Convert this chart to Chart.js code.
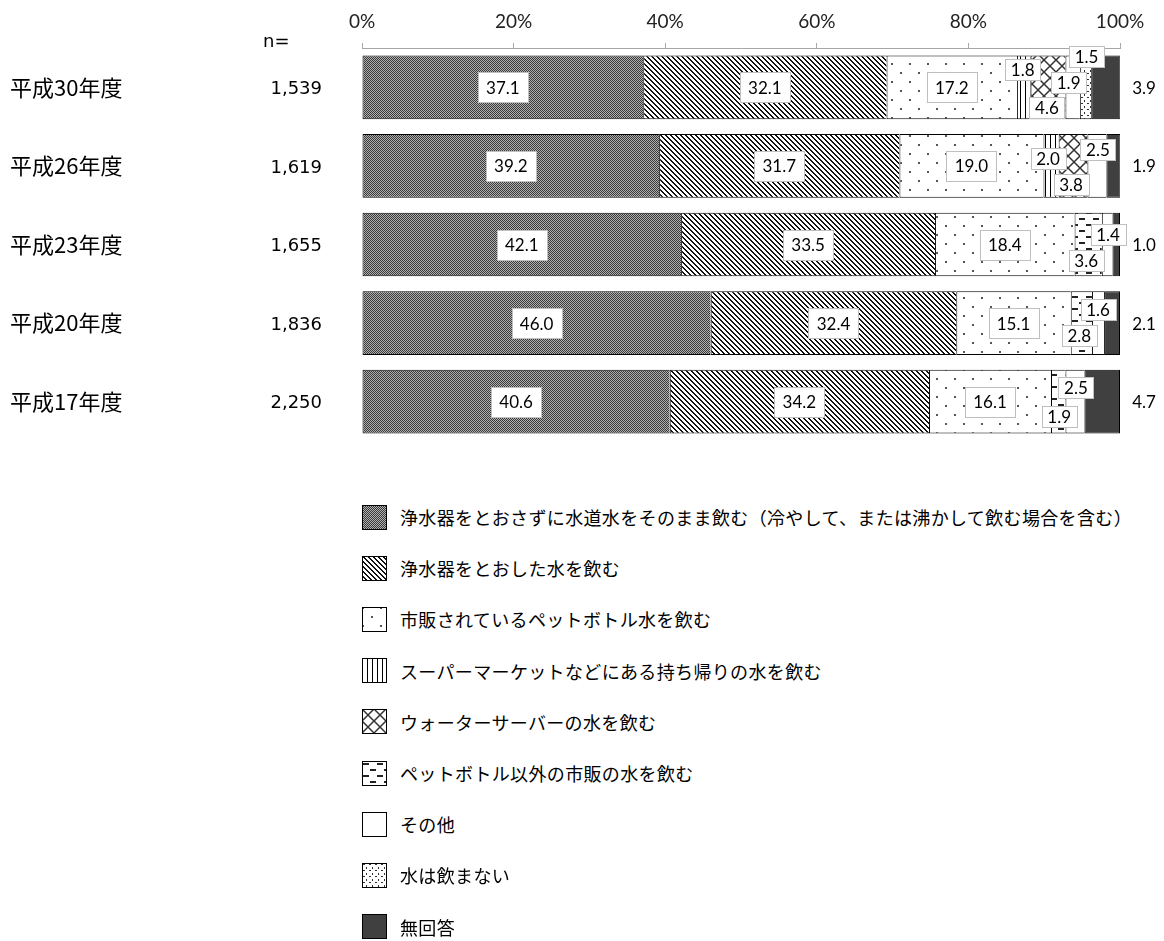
<!DOCTYPE html>
<html lang="ja">
<head>
<meta charset="utf-8">
<script src="https://cdn.jsdelivr.net/npm/chart.js@4/dist/chart.umd.min.js"></script>
<style>
  html, body { margin: 0; padding: 0; background: #fff; }
  #wrap { position: relative; width: 1164px; height: 941px; }
  #chartBox { position: absolute; left: 0; top: 0; width: 1164px; height: 470px; }
  #legend { position: absolute; left: 362px; top: 0; }
  .item { position: absolute; left: 0; display: flex; align-items: center; height: 26px;
          white-space: nowrap; font: 18px "Noto Sans CJK JP"; letter-spacing: 0.35px; color: #000; }
  .item canvas { display: block; margin-right: 13px; }
</style>
</head>
<body>
<div id="wrap">
  <div id="chartBox"><canvas id="c"></canvas></div>
  <div id="legend"></div>
</div>
<script>
// ---- survey data (%), one value per survey year ----
const years = ['平成30年度', '平成26年度', '平成23年度', '平成20年度', '平成17年度'];
const sampleSizes = ['1,539', '1,619', '1,655', '1,836', '2,250'];
const percentTicks = ['0%', '20%', '40%', '60%', '80%', '100%'];

const tapDirect       = [37.1, 39.2, 42.1, 46.0, 40.6];
const tapFiltered     = [32.1, 31.7, 33.5, 32.4, 34.2];
const bottledWater    = [17.2, 19.0, 18.4, 15.1, 16.1];
const storeTakeHome   = [1.8, 2.0, null, null, null];
const waterServer     = [4.6, 3.8, null, null, null];
const otherCommercial = [null, null, 3.6, 2.8, 1.9];
const otherAnswer     = [1.9, 2.5, 1.4, 1.6, 2.5];
const noWater         = [1.5, null, null, null, null];
const noAnswer        = [3.9, 1.9, 1.0, 2.1, 4.7];

const seriesNames = [
  '浄水器をとおさずに水道水をそのまま飲む（冷やして、または沸かして飲む場合を含む）',
  '浄水器をとおした水を飲む',
  '市販されているペットボトル水を飲む',
  'スーパーマーケットなどにある持ち帰りの水を飲む',
  'ウォーターサーバーの水を飲む',
  'ペットボトル以外の市販の水を飲む',
  'その他',
  '水は飲まない',
  '無回答'
];
const seriesValues = [tapDirect, tapFiltered, bottledWater, storeTakeHome, waterServer,
                      otherCommercial, otherAnswer, noWater, noAnswer];
const NO_ANSWER = 8;

// ---- fill patterns ----
function tile(w, h, draw) {
  const c = document.createElement('canvas');
  c.width = w; c.height = h;
  const g = c.getContext('2d');
  g.fillStyle = '#fff'; g.fillRect(0, 0, w, h);
  draw(g, w, h);
  return c;
}
const tiles = [
  // fine checker
  tile(2, 2, (g) => { g.fillStyle = '#b0b0b0'; g.fillRect(0, 0, 2, 2);
                      g.fillStyle = '#3a3a3a'; g.fillRect(0, 0, 1, 1); g.fillRect(1, 1, 1, 1); }),
  // diagonal hatch
  tile(5, 5, (g) => { g.fillStyle = '#111';
    for (let y = 0; y < 5; y++) for (let x = 0; x < 5; x++) if (((x - y + 10) % 5) < 2) g.fillRect(x, y, 1, 1); }),
  // sparse dots
  tile(18, 18, (g) => { g.fillStyle = '#555'; g.fillRect(0, 0, 2, 2); g.fillRect(9, 9, 2, 2); }),
  // vertical lines
  tile(5, 1, (g) => { g.fillStyle = '#000'; g.fillRect(0, 0, 1, 1); }),
  // large cross hatch
  tile(12, 12, (g) => { g.strokeStyle = '#333'; g.lineWidth = 1.5; g.beginPath();
    g.moveTo(0, 0); g.lineTo(12, 12); g.moveTo(12, 0); g.lineTo(0, 12); g.stroke(); }),
  // horizontal dashes
  tile(14, 12, (g) => { g.fillStyle = '#222'; g.fillRect(1, 2, 6, 2); g.fillRect(8, 8, 6, 2); }),
  // plain white
  null,
  // dense speckle
  tile(6, 6, (g) => { g.fillStyle = '#333'; g.fillRect(1, 1, 2, 1); g.fillRect(4, 4, 1, 2); }),
  // solid dark
  null
];
const solidFills = { 6: '#ffffff', 8: '#404040' };
function fillFor(ctx, i) {
  return tiles[i] ? ctx.createPattern(tiles[i], 'repeat') : solidFills[i];
}

// ---- value labels ----
// label nudges for the thin segments, [dataset, category] -> [dx, dy]
const labelNudge = {
  '3,0': [-1, -18], '4,0': [-1, 20], '6,0': [-4, -5], '7,0': [1, -31],
  '3,1': [-3, -7],  '4,1': [-2, 19], '6,1': [1, -16],
  '5,2': [-2, 16],  '6,2': [1, -10],
  '5,3': [-2, 12],  '6,3': [0, -14],
  '5,4': [1, 15],   '6,4': [1, -14]
};
const barLabels = {
  id: 'barLabels',
  afterDatasetsDraw(chart) {
    const ctx = chart.ctx;
    ctx.save();
    ctx.font = '17px Lato';
    ctx.textAlign = 'center';
    ctx.textBaseline = 'middle';
    chart.data.datasets.forEach((ds, di) => {
      const meta = chart.getDatasetMeta(di);
      meta.data.forEach((bar, ci) => {
        const v = ds.data[ci];
        if (v == null) return;
        const txt = v.toFixed(1);
        if (di === NO_ANSWER) {
          ctx.fillStyle = '#000';
          ctx.fillText(txt, chart.chartArea.right + 24, bar.y + 1);
          return;
        }
        const nudge = labelNudge[di + ',' + ci] || [0, 0];
        const cx = (bar.x + bar.base) / 2 + nudge[0];
        const cy = bar.y + nudge[1];
        const w = ctx.measureText(txt).width;
        const big = v >= 10;
        const bw = Math.round(w + (big ? 16 : 11));
        const bh = big ? 30 : 21;
        const bx = Math.round(cx - bw / 2) + 0.5;
        const by = Math.round(cy - bh / 2) + 0.5;
        ctx.fillStyle = '#fff';
        ctx.fillRect(bx, by, bw, bh);
        ctx.strokeStyle = '#bfbfbf';
        ctx.lineWidth = 1;
        ctx.strokeRect(bx, by, bw, bh);
        ctx.fillStyle = '#000';
        ctx.fillText(txt, cx, cy + 1);
      });
    });
    ctx.restore();
  }
};

// ---- sample size column ----
const sampleColumn = {
  id: 'sampleColumn',
  afterDraw(chart) {
    const ctx = chart.ctx;
    const y = chart.scales.y;
    ctx.save();
    ctx.font = '18px "DejaVu Sans"';
    ctx.fillStyle = '#000';
    ctx.textBaseline = 'middle';
    ctx.textAlign = 'left';
    ctx.fillText('n=', 263, 42);
    ctx.textAlign = 'right';
    sampleSizes.forEach((s, i) => ctx.fillText(s, 322, y.getPixelForValue(i) + 2));
    ctx.restore();
  }
};

const canvas = document.getElementById('c');
const cctx = canvas.getContext('2d');

new Chart(canvas, {
  type: 'bar',
  data: {
    labels: years,
    datasets: seriesValues.map((vals, i) => ({
      label: seriesNames[i],
      data: vals,
      backgroundColor: fillFor(cctx, i),
      borderColor: '#000',
      borderWidth: i === NO_ANSWER ? 1 : { top: 1, bottom: 1, left: 1, right: 0 },
      borderSkipped: false
    }))
  },
  options: {
    indexAxis: 'y',
    responsive: true,
    maintainAspectRatio: false,
    animation: false,
    devicePixelRatio: 1,
    layout: { padding: { left: 10, right: 44, top: 0, bottom: 29 } },
    plugins: { legend: { display: false }, tooltip: { enabled: false } },
    datasets: { bar: { barPercentage: 0.81, categoryPercentage: 1 } },
    scales: {
      x: {
        position: 'top', stacked: true, min: 0, max: 100,
        afterFit(s) { s.height = 48; },
        ticks: { stepSize: 20, padding: 10, color: '#222',
                 font: { family: 'Lato', size: 19 },
                 callback: (v) => percentTicks[Math.round(v / 20)] },
        grid: { drawOnChartArea: false, drawTicks: true, tickLength: 5, color: '#a6a6a6' },
        border: { display: true, color: '#a6a6a6' }
      },
      y: {
        stacked: true,
        afterFit(s) { s.width = 352; },
        ticks: { crossAlign: 'far', padding: 0, color: '#000',
                 font: { family: 'Noto Sans CJK JP', size: 22 } },
        grid: { display: false },
        border: { display: false }
      }
    }
  },
  plugins: [barLabels, sampleColumn]
});

// ---- legend ----
const legend = document.getElementById('legend');
seriesNames.forEach((name, i) => {
  const row = document.createElement('div');
  row.className = 'item';
  row.style.top = (504 + i * 51.2) + 'px';
  const sw = document.createElement('canvas');
  sw.width = 25; sw.height = 25;
  const g = sw.getContext('2d');
  g.fillStyle = fillFor(g, i);
  g.fillRect(0, 0, 25, 25);
  g.strokeStyle = '#000';
  g.lineWidth = 1;
  g.strokeRect(0.5, 0.5, 24, 24);
  const label = document.createElement('span');
  label.textContent = name;
  row.appendChild(sw);
  row.appendChild(label);
  legend.appendChild(row);
});
</script>
</body>
</html>
